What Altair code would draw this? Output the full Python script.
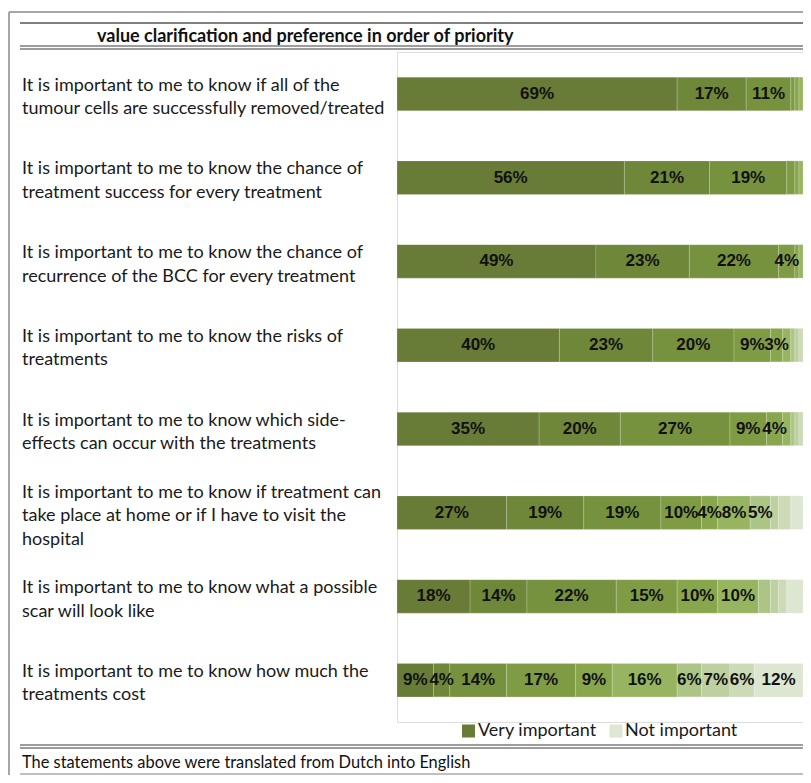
import altair as alt
import pandas as pd

statements = [
    "It is important to me to know if all of the|tumour cells are successfully removed/treated",
    "It is important to me to know the chance of|treatment success for every treatment",
    "It is important to me to know the chance of|recurrence of the BCC for every treatment",
    "It is important to me to know the risks of|treatments",
    "It is important to me to know which side-|effects can occur with the treatments",
    "It is important to me to know if treatment can|take place at home or if I have to visit the|hospital",
    "It is important to me to know what a possible|scar will look like",
    "It is important to me to know how much the|treatments cost",
]
levels = ["Very important", "2", "3", "4", "5", "6", "7", "8", "9", "Not important"]
colors = ["#687C37", "#6F8739", "#77923F", "#7F9C45", "#88A74D",
          "#97B560", "#ADC487", "#BDD0A0", "#CCDAB6", "#DDE6D0"]
row_values = [
    [69, 17, 11, 1, 1, 1, 0, 0, 0, 0],
    [56, 21, 19, 2, 1, 1, 0, 0, 0, 0],
    [49, 23, 22, 4, 1, 1, 0, 0, 0, 0],
    [40, 23, 20, 9, 3, 2, 1, 1, 1, 0],
    [35, 20, 27, 9, 4, 2, 1, 1, 1, 0],
    [27, 19, 19, 10, 4, 8, 5, 2, 3, 3],
    [18, 14, 22, 15, 10, 10, 3, 2, 2, 4],
    [9, 4, 14, 17, 9, 16, 6, 7, 6, 12],
]
labeled_counts = [3, 3, 4, 5, 5, 7, 6, 10]

title_text = "value clarification and preference in order of priority"
footer_text = "The statements above were translated from Dutch into English"

rows = []
for s, vals, n in zip(statements, row_values, labeled_counts):
    for j, v in enumerate(vals):
        rows.append({"stmt": s, "level": levels[j], "order": j, "value": v, "show": j < n})
df = pd.DataFrame(rows)
stmt_df = pd.DataFrame({"stmt": statements})

LH = 23.5
PLOT_W = 406
PLOT_H = 670
STEP = PLOT_H / 8.0
HALF_BAND = STEP * 0.4 / 2

base = (
    alt.Chart(df)
    .transform_filter("datum.value > 0")
    .transform_stack(stack="value", groupby=["stmt"],
                     sort=[alt.SortField("order", order="ascending")], as_=["x0", "x1"])
    .transform_calculate(mid="(datum.x0 + datum.x1) / 2", lbl="datum.value + '%'")
)

xscale = alt.Scale(domain=[0, 100], nice=False, zero=True)
yscale = alt.Scale(paddingInner=0.6, paddingOuter=0.3)
cscale = alt.Scale(domain=levels, range=colors)

bars = base.mark_bar(stroke="white", strokeWidth=0.5, strokeOpacity=0.35).encode(
    x=alt.X("x0:Q", scale=xscale, axis=None),
    x2="x1:Q",
    y=alt.Y("stmt:N", sort=statements, title=None, scale=yscale,
            axis=alt.Axis(labels=False, ticks=False, tickSize=0, domainColor="#d9d9d9",
                          domainWidth=2, grid=False)),
    color=alt.Color("level:N", scale=cscale, legend=None),
)

labels = base.transform_filter("datum.show").mark_text(
    font="Liberation Sans", fontWeight="bold", fontSize=17, color="#111111", baseline="middle"
).encode(
    x=alt.X("mid:Q", scale=xscale, axis=None),
    y=alt.Y("stmt:N", sort=statements, scale=yscale, axis=None),
    text="lbl:N",
)

stmt_text = alt.Chart(stmt_df).transform_calculate(
    off=f"{HALF_BAND} + 3.5 - (length(split(datum.stmt, '|')) - 1) * {LH} / 2"
).mark_text(
    font="Lato", fontSize=18, color="#1a1a1a", align="left", baseline="middle",
    lineBreak="|", lineHeight=LH
).encode(
    x=alt.value(-375),
    y=alt.Y("stmt:N", sort=statements, scale=yscale, axis=None),
    yOffset=alt.YOffset("off:Q", scale=None),
    text="stmt:N",
)

# legend (first and last level only)
legend_layers = []
for lvl, sx, tx in [(levels[0], 71.5, 81), (levels[-1], 219, 228)]:
    ldf = pd.DataFrame({"level": [lvl]})
    legend_layers.append(
        alt.Chart(ldf).mark_square(size=169, opacity=1).encode(
            x=alt.value(sx), y=alt.value(679),
            color=alt.Color("level:N", scale=cscale, legend=None)))
    legend_layers.append(
        alt.Chart(ldf).mark_text(font="Lato", fontSize=18, color="#1a1a1a", align="left",
                                 baseline="middle").encode(
            x=alt.value(tx), y=alt.value(679), text="level:N"))

one = pd.DataFrame({"k": [0]})


def hline(y, x1, x2, color, w):
    return alt.Chart(one).mark_rule(color=color, strokeWidth=w).encode(
        x=alt.value(x1), x2=alt.value(x2), y=alt.value(y))


deco = [
    alt.Chart(one).mark_rule(color="#a6a6a6", strokeWidth=2).encode(
        x=alt.value(-388), y=alt.value(-40), y2=alt.value(760)),
    hline(-40, -388, 500, "#a6a6a6", 2),
    hline(-29, -377, 409, "#000000", 1),
    hline(-6, -377, 409, "#3a3a3a", 1),
    hline(-3, -377, 409, "#3a3a3a", 1),
    hline(693, -377, 409, "#3a3a3a", 1),
    hline(696, -377, 409, "#3a3a3a", 1),
    hline(722, -377, 409, "#808080", 1),
    alt.Chart(one).mark_text(font="Lato", fontWeight="bold", fontSize=18, align="left",
                             baseline="middle", color="#111111").encode(
        x=alt.value(-300), y=alt.value(-15), text=alt.value(title_text)),
    alt.Chart(one).mark_text(font="Lato", fontSize=16.4, align="left",
                             baseline="middle", color="#111111").encode(
        x=alt.value(-375), y=alt.value(711), text=alt.value(footer_text)),
]

chart = alt.layer(bars, labels, stmt_text, *legend_layers, *deco).properties(
    width=PLOT_W, height=PLOT_H,
    autosize=alt.AutoSizeParams(type="none"),
    padding={"left": 389, "top": 44, "right": 0, "bottom": 53},
).configure_view(stroke=None).configure(background="white")

chart.save("out.html", embed_options={"renderer": "svg", "actions": False})
